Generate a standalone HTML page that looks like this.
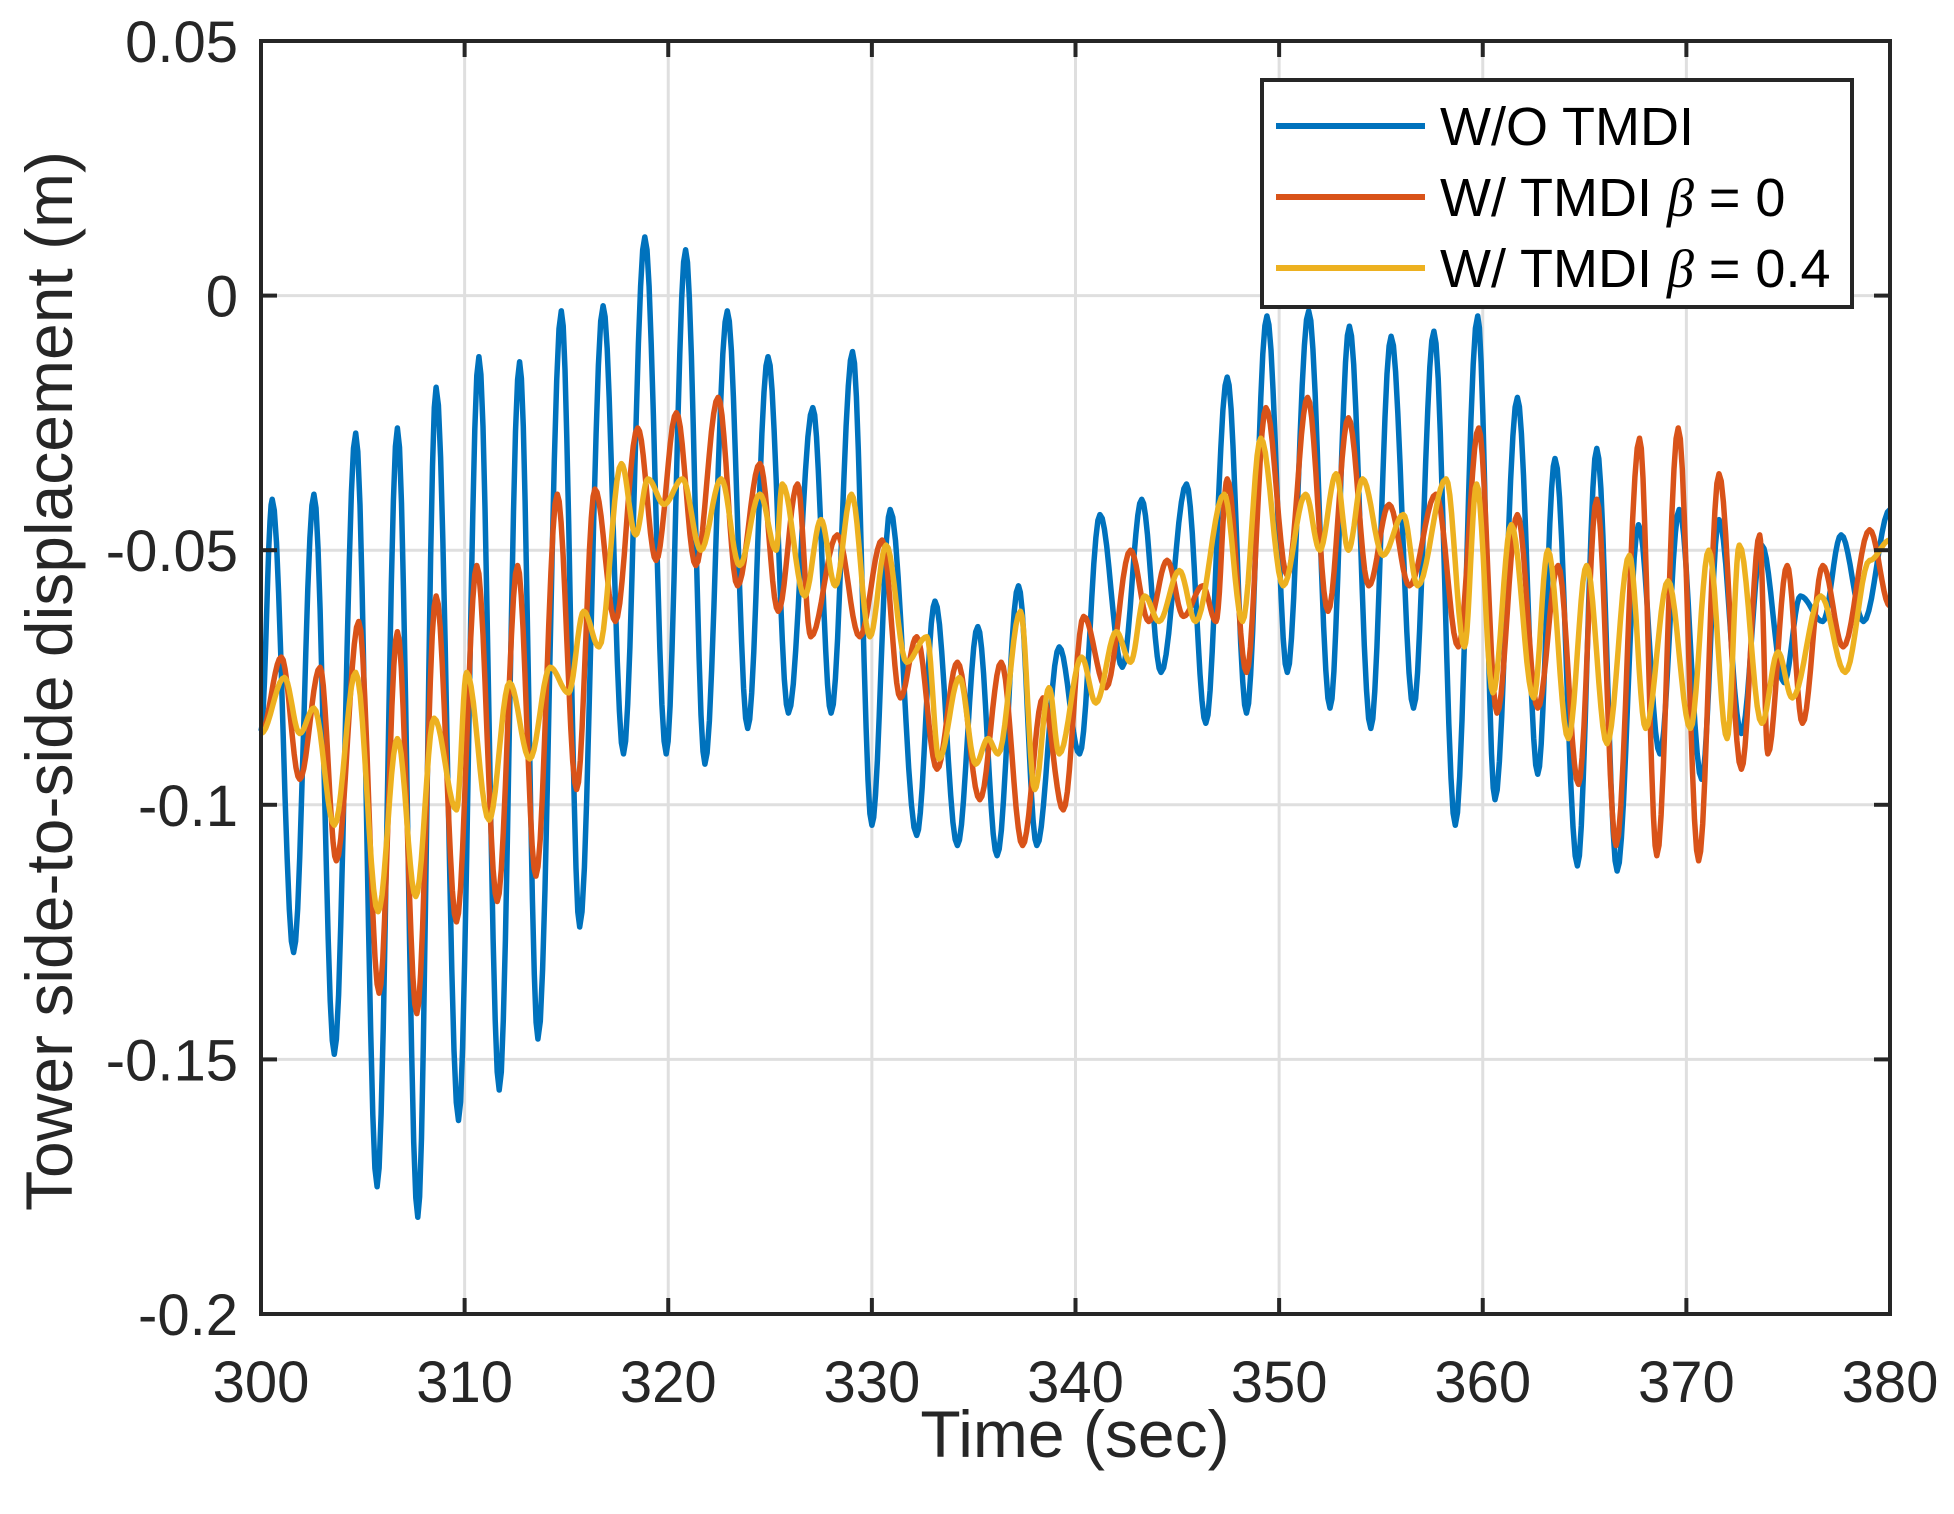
<!DOCTYPE html>
<html><head><meta charset="utf-8"><style>
html,body{margin:0;padding:0;background:#fff}
svg{display:block}
text{font-family:"Liberation Sans",sans-serif;fill:#262626}
</style></head><body>
<svg id="chart" width="1954" height="1514" viewBox="0 0 1954 1514" xmlns="http://www.w3.org/2000/svg">
<rect width="1954" height="1514" fill="#fff"/>
<g id="grid"></g>
<g id="series"></g>
<g id="axes"></g>
<text x="1075" y="1457" font-size="66" text-anchor="middle">Time (sec)</text>
<text x="0" y="0" font-size="66" text-anchor="middle" transform="translate(72,681) rotate(-90)">Tower side-to-side displacement (m)</text>
<g>
<rect x="1262" y="80" width="590" height="227" fill="#fff" stroke="#262626" stroke-width="4"/>
<line x1="1276" y1="126" x2="1425" y2="126" stroke="#0072BD" stroke-width="6"/>
<text x="1440" y="145" font-size="54" style="fill:#000">W/O TMDI</text>
<line x1="1276" y1="197" x2="1425" y2="197" stroke="#D95319" stroke-width="6"/>
<text x="1440" y="216" font-size="54" style="fill:#000">W/ TMDI <tspan font-family="Liberation Serif" font-style="italic">β</tspan> = 0</text>
<line x1="1276" y1="268" x2="1425" y2="268" stroke="#EDB120" stroke-width="6"/>
<text x="1440" y="287" font-size="54" style="fill:#000">W/ TMDI <tspan font-family="Liberation Serif" font-style="italic">β</tspan> = 0.4</text>
</g>
</svg>
<script>
const xTicks = [300,310,320,330,340,350,360,370,380];
const yTicks = [0.05,0,-0.05,-0.1,-0.15,-0.2];
const yTickLabels = ["0.05","0","-0.05","-0.1","-0.15","-0.2"];

const blueT = [300,300.55,301.6,302.6,303.6,304.65,305.7,306.7,307.7,308.6,309.7,310.7,311.7,312.7,313.6,314.75,315.65,316.8,317.8,318.85,319.9,320.85,321.8,322.9,323.9,324.9,325.9,327.1,328.0,329.05,330.0,330.9,332.2,333.1,334.2,335.2,336.15,337.2,338.1,339.2,340.2,341.2,342.3,343.25,344.2,345.45,346.4,347.45,348.4,349.4,350.4,351.45,352.5,353.45,354.5,355.5,356.6,357.6,358.65,359.75,360.6,361.7,362.7,363.55,364.65,365.6,366.6,367.65,368.7,369.65,370.75,371.6,372.7,373.7,374.8,375.6,376.7,377.6,378.7,380];
const blueV = [-0.0855,-0.040,-0.129,-0.039,-0.149,-0.027,-0.175,-0.026,-0.181,-0.018,-0.162,-0.012,-0.156,-0.013,-0.146,-0.003,-0.124,-0.002,-0.090,0.0115,-0.090,0.009,-0.092,-0.003,-0.085,-0.012,-0.082,-0.022,-0.082,-0.011,-0.104,-0.042,-0.106,-0.060,-0.108,-0.065,-0.110,-0.057,-0.108,-0.069,-0.090,-0.043,-0.073,-0.040,-0.074,-0.037,-0.084,-0.016,-0.082,-0.004,-0.074,-0.003,-0.081,-0.006,-0.085,-0.008,-0.081,-0.007,-0.104,-0.004,-0.099,-0.020,-0.094,-0.032,-0.112,-0.030,-0.113,-0.045,-0.090,-0.042,-0.095,-0.044,-0.086,-0.049,-0.076,-0.059,-0.064,-0.047,-0.064,-0.042];

const redT = [300,301,301.9,302.9,303.7,304.8,305.8,306.7,307.65,308.6,309.6,310.6,311.6,312.6,313.5,314.55,315.5,316.4,317.4,318.5,319.4,320.4,321.35,322.45,323.4,324.5,325.4,326.35,327,328.3,329.4,330.5,331.4,332.2,333.2,334.2,335.3,336.35,337.4,338.4,339.4,340.4,341.5,342.7,343.6,344.5,345.3,346.25,346.9,347.45,348.4,349.35,350.4,351.4,352.4,353.4,354.4,355.4,356.4,357.7,358.8,359.8,360.7,361.7,362.7,363.7,364.7,365.6,366.55,367.7,368.55,369.6,370.6,371.6,372.7,373.6,374,374.95,375.7,376.7,377.7,379,380];
const redV = [-0.086,-0.071,-0.095,-0.073,-0.111,-0.064,-0.137,-0.066,-0.141,-0.059,-0.123,-0.053,-0.119,-0.053,-0.114,-0.039,-0.097,-0.038,-0.064,-0.026,-0.052,-0.023,-0.053,-0.020,-0.057,-0.033,-0.062,-0.037,-0.067,-0.047,-0.067,-0.048,-0.079,-0.067,-0.093,-0.072,-0.099,-0.072,-0.108,-0.079,-0.101,-0.063,-0.077,-0.050,-0.064,-0.052,-0.063,-0.057,-0.064,-0.036,-0.074,-0.022,-0.055,-0.020,-0.062,-0.024,-0.057,-0.041,-0.057,-0.039,-0.069,-0.026,-0.082,-0.043,-0.081,-0.053,-0.096,-0.040,-0.108,-0.028,-0.110,-0.026,-0.111,-0.035,-0.093,-0.047,-0.090,-0.053,-0.084,-0.053,-0.069,-0.046,-0.061];

const yelT = [300,301.15,301.9,302.6,303.6,304.65,305.75,306.7,307.6,308.5,309.6,310.1,311.2,312.2,313.2,314.2,315.1,315.85,316.6,317.7,318.4,319,319.8,320.7,321.6,322.6,323.5,324.5,325.3,325.6,326.7,327.5,328.2,329,329.9,330.7,331.7,332.7,333.3,334.3,335.1,335.7,336.2,337.3,338,338.7,339.2,340.3,341,342,342.7,343.4,344.1,345.1,345.9,347.3,348.2,349.1,350.2,351.3,352,352.8,353.4,354.1,355.1,356.1,356.8,358.2,359.1,359.7,360.5,361.4,362.5,363.2,364.2,365.1,366.1,367.2,368,369.1,370.2,371.1,372,372.6,373.7,374.5,375.2,376.6,377.8,379,380];
const yelV = [-0.086,-0.075,-0.086,-0.081,-0.104,-0.074,-0.121,-0.087,-0.118,-0.083,-0.101,-0.074,-0.103,-0.076,-0.091,-0.073,-0.078,-0.062,-0.069,-0.033,-0.047,-0.036,-0.041,-0.036,-0.050,-0.036,-0.053,-0.039,-0.050,-0.037,-0.059,-0.044,-0.057,-0.039,-0.067,-0.049,-0.072,-0.067,-0.091,-0.075,-0.092,-0.087,-0.090,-0.062,-0.097,-0.077,-0.090,-0.071,-0.080,-0.066,-0.072,-0.059,-0.064,-0.054,-0.064,-0.039,-0.064,-0.028,-0.057,-0.039,-0.050,-0.035,-0.050,-0.036,-0.051,-0.043,-0.057,-0.036,-0.069,-0.037,-0.078,-0.045,-0.079,-0.050,-0.087,-0.053,-0.088,-0.051,-0.085,-0.056,-0.085,-0.050,-0.087,-0.049,-0.084,-0.070,-0.079,-0.059,-0.074,-0.052,-0.048];

const NS = "http://www.w3.org/2000/svg";
const L = 261, R = 1890, T = 41, B = 1314;
const xMin = 300, xMax = 380, yMin = -0.2, yMax = 0.05;
function xs(t){ return L + (t - xMin) / (xMax - xMin) * (R - L); }
function ys(v){ return B - (v - yMin) / (yMax - yMin) * (B - T); }

const grid = document.getElementById('grid');
const axes = document.getElementById('axes');
function mk(tag, attrs, parent){
  const e = document.createElementNS(NS, tag);
  for (const k in attrs) e.setAttribute(k, attrs[k]);
  parent.appendChild(e);
  return e;
}
xTicks.forEach(t => {
  const x = xs(t);
  const g = mk('line', {x1:x, y1:T, x2:x, y2:B, stroke:'#dfdfdf', 'stroke-width':3}, grid);
  
  
  const tk = mk('line', {x1:x, y1:B, x2:x, y2:B-16, stroke:'#262626', 'stroke-width':4}, axes);
  
  
  const tk2 = mk('line', {x1:x, y1:T, x2:x, y2:T+16, stroke:'#262626', 'stroke-width':4}, axes);
  
  
  const lb = mk('text', {x:x, y:1402, 'font-size':58, 'text-anchor':'middle'}, axes);
  lb.textContent = String(t);
  
  
});
yTicks.forEach((v, i) => {
  const y = ys(v);
  const g = mk('line', {x1:L, y1:y, x2:R, y2:y, stroke:'#dfdfdf', 'stroke-width':3}, grid);
  
  
  const tk = mk('line', {x1:L, y1:y, x2:L+16, y2:y, stroke:'#262626', 'stroke-width':4}, axes);
  
  
  const tk2 = mk('line', {x1:R, y1:y, x2:R-16, y2:y, stroke:'#262626', 'stroke-width':4}, axes);
  
  
  const lb = mk('text', {x:238, y:y+21, 'font-size':58, 'text-anchor':'end'}, axes);
  lb.textContent = yTickLabels[i];
  
  
});
const frame = mk('rect', {x:L, y:T, width:R-L, height:B-T, fill:'none', stroke:'#262626', 'stroke-width':4}, axes);



function pathFor(ts, vs){
  let d = 'M' + xs(ts[0]).toFixed(1) + ',' + ys(vs[0]).toFixed(1);
  for (let i = 0; i < ts.length - 1; i++){
    const n = 10;
    for (let k = 1; k <= n; k++){
      const f = k / n, w = (1 - Math.cos(Math.PI * f)) / 2;
      const t = ts[i] + (ts[i+1] - ts[i]) * f;
      const v = vs[i] + (vs[i+1] - vs[i]) * w;
      d += 'L' + xs(t).toFixed(1) + ',' + ys(v).toFixed(1);
    }
  }
  return d;
}
const sg = document.getElementById('series');
const s1 = mk('path', {d:pathFor(blueT, blueV), fill:'none', stroke:'#0072BD', 'stroke-width':5.5, 'stroke-linejoin':'round'}, sg);


const s2 = mk('path', {d:pathFor(redT, redV), fill:'none', stroke:'#D95319', 'stroke-width':5.5, 'stroke-linejoin':'round'}, sg);


const s3 = mk('path', {d:pathFor(yelT, yelV), fill:'none', stroke:'#EDB120', 'stroke-width':5.5, 'stroke-linejoin':'round'}, sg);


</script>
</body></html>
